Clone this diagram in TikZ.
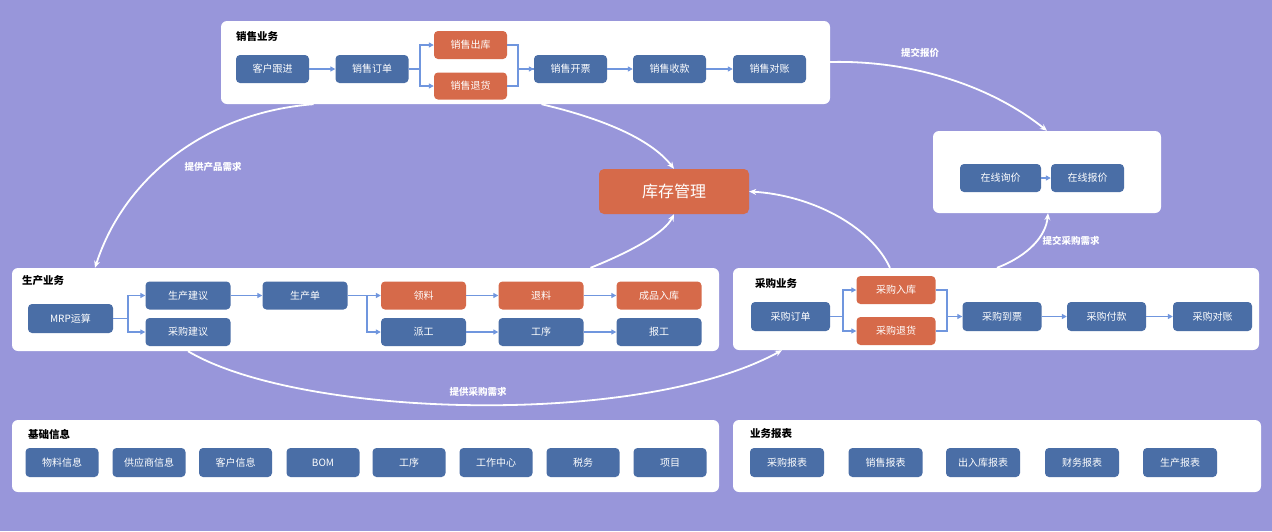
\documentclass[tikz,border=0pt]{standalone}
\usepackage{fontspec}
\setmainfont{Noto Sans CJK SC}
\usetikzlibrary{arrows.meta}
\definecolor{bgc}{RGB}{152,150,218}
\definecolor{bluebox}{RGB}{74,110,166}
\definecolor{orangebox}{RGB}{214,106,74}
\definecolor{conn}{RGB}{112,150,222}
\tikzset{
  panel/.style={fill=white, rounded corners=6pt, draw=none, inner sep=0pt},
  bbox/.style={fill=bluebox, rounded corners=4pt, text=white, font=\fontsize{10}{12}\selectfont, inner sep=0pt, minimum width=73pt, minimum height=28pt},
  obox/.style={bbox, fill=orangebox},
  wp/.style={minimum width=85pt},
  wu/.style={minimum width=79pt},
  ptitle/.style={anchor=west, font=\fontsize{10.5}{12}\selectfont\bfseries, text=black, inner sep=0pt},
  conn/.style={draw=conn, line width=1.6pt, -{Triangle[length=5pt,width=5pt]}},
  connl/.style={draw=conn, line width=1.6pt},
  flow/.style={draw=white, line width=1.8pt, -{Stealth[length=7pt,width=6pt]}},
  flabel/.style={text=white, font=\fontsize{9.5}{11}\selectfont\bfseries, inner sep=1pt}
}
\begin{document}
\begin{tikzpicture}[x=1pt,y=-1pt]
\fill[bgc] (0,0) rectangle (1272,531);
\useasboundingbox (0,0) rectangle (1272,531);

% panels
\node[panel, minimum width=609pt, minimum height=83pt] (psales) at (525.5,62.5) {};
\node[panel, minimum width=228pt, minimum height=82pt] (ponline) at (1047,172) {};
\node[panel, minimum width=707pt, minimum height=83pt] (pprod) at (365.5,309.5) {};
\node[panel, minimum width=526pt, minimum height=82pt] (ppur) at (996,309) {};
\node[panel, minimum width=707pt, minimum height=72pt] (pbase) at (365.5,456) {};
\node[panel, minimum width=528pt, minimum height=72pt] (prep) at (997,456) {};

% titles
\node[ptitle] (tsales) at (236,36) {销售业务};
\node[ptitle] (tprod) at (22,281) {生产业务};
\node[ptitle] (tpur) at (755,283) {采购业务};
\node[ptitle] (tbase) at (28,434) {基础信息};
\node[ptitle] (trep) at (750,434) {业务报表};

% inventory
\node[obox, minimum width=150pt, minimum height=45pt, rounded corners=5pt, font=\fontsize{16}{18}\selectfont] (inv) at (674,191.5) {库存管理};

% sales
\node[bbox] (s1) at (272.5,69) {客户跟进};
\node[bbox] (s2) at (372,69) {销售订单};
\node[obox] (s3) at (470.5,45) {销售出库};
\node[obox, minimum height=27pt] (s4) at (470.5,86) {销售退货};
\node[bbox] (s5) at (570.5,69) {销售开票};
\node[bbox] (s6) at (669.5,69) {销售收款};
\node[bbox] (s7) at (769.5,69) {销售对账};
\draw[conn] (s1) -- (s2);
\draw[conn] (s2.east) -- ++(11,0) |- (s3.west);
\draw[conn] (s2.east) -- ++(11,0) |- (s4.west);
\draw[connl] (s3.east) -- ++(11,0) |- (s5.west);
\draw[conn] (s4.east) -- ++(11,0) |- (s5.west);
\draw[conn] (s5) -- (s6);
\draw[conn] (s6) -- (s7);

% online
\node[bbox, minimum width=81pt] (o1) at (1000.5,178) {在线询价};
\node[bbox] (o2) at (1087.5,178) {在线报价};
\draw[conn] (o1) -- (o2);

% production
\node[bbox, wp, minimum height=29pt] (m0) at (70.5,318.5) {MRP运算};
\node[bbox, wp] (m1) at (188,295.5) {生产建议};
\node[bbox, wp] (m2) at (188,332) {采购建议};
\node[bbox, wp] (m3) at (305,295.5) {生产单};
\node[obox, wp] (m4) at (423.5,295.5) {领料};
\node[obox, wp] (m5) at (541,295.5) {退料};
\node[obox, wp] (m6) at (659,295.5) {成品入库};
\node[bbox, wp] (m7) at (423.5,332) {派工};
\node[bbox, wp] (m8) at (541,332) {工序};
\node[bbox, wp] (m9) at (659,332) {报工};
\draw[conn] (m0.east) -- ++(15,0) |- (m1.west);
\draw[conn] (m0.east) -- ++(15,0) |- (m2.west);
\draw[conn] (m1) -- (m3);
\draw[conn] (m3.east) -- ++(19,0) |- (m4.west);
\draw[conn] (m3.east) -- ++(19,0) |- (m7.west);
\draw[conn] (m4) -- (m5);
\draw[conn] (m5) -- (m6);
\draw[conn] (m7) -- (m8);
\draw[conn] (m8) -- (m9);

% purchase
\node[bbox, wu, minimum height=29pt] (u1) at (790.5,316.5) {采购订单};
\node[obox, wu] (u2) at (896,290) {采购入库};
\node[obox, wu] (u3) at (896,331) {采购退货};
\node[bbox, wu, minimum height=29pt] (u4) at (1002,316.5) {采购到票};
\node[bbox, wu, minimum height=29pt] (u5) at (1106.5,316.5) {采购付款};
\node[bbox, wu, minimum height=29pt] (u6) at (1212.5,316.5) {采购对账};
\draw[conn] (u1.east) -- ++(13,0) |- (u2.west);
\draw[conn] (u1.east) -- ++(13,0) |- (u3.west);
\draw[connl] (u2.east) -- ++(11,0) |- (u4.west);
\draw[conn] (u3.east) -- ++(11,0) |- (u4.west);
\draw[conn] (u4) -- (u5);
\draw[conn] (u5) -- (u6);

% basic info
\node[bbox, minimum height=29pt] (b1) at (62,462.5) {物料信息};
\node[bbox, minimum height=29pt] (b2) at (149,462.5) {供应商信息};
\node[bbox, minimum height=29pt] (b3) at (235.5,462.5) {客户信息};
\node[bbox, minimum height=29pt] (b4) at (323,462.5) {BOM};
\node[bbox, minimum height=29pt] (b5) at (409,462.5) {工序};
\node[bbox, minimum height=29pt] (b6) at (496,462.5) {工作中心};
\node[bbox, minimum height=29pt] (b7) at (583,462.5) {税务};
\node[bbox, minimum height=29pt] (b8) at (670,462.5) {项目};
% reports
\node[bbox, minimum width=74pt, minimum height=29pt] (r1) at (787,462.5) {采购报表};
\node[bbox, minimum width=74pt, minimum height=29pt] (r2) at (885.5,462.5) {销售报表};
\node[bbox, minimum width=74pt, minimum height=29pt] (r3) at (983,462.5) {出入库报表};
\node[bbox, minimum width=74pt, minimum height=29pt] (r4) at (1082,462.5) {财务报表};
\node[bbox, minimum width=74pt, minimum height=29pt] (r5) at (1180,462.5) {生产报表};

% flows between panels
\draw[flow] ([xshift=-212pt]psales.south) .. controls (210,112) and (125,175) .. ([xshift=-270.5pt]pprod.north);
\node[flabel] (l1) at (213,167) {提供产品需求};
\draw[flow] ([xshift=16pt]psales.south) .. controls (600,118) and (650,138) .. (inv.north);
\draw[flow] ([xshift=225pt]pprod.north) .. controls (635,250) and (665,232) .. (inv.south);
\draw[flow] ([xshift=-106pt]ppur.north) .. controls (870,225) and (810,195) .. (inv.east);
\draw[flow] ([yshift=0.5pt]psales.east) .. controls (910,60) and (990,85) .. ([xshift=0pt]ponline.north);
\node[flabel] (l2) at (920,53) {提交报价};
\draw[flow] ([xshift=1pt]ppur.north) .. controls (1030,255) and (1046,235) .. ([xshift=1pt]ponline.south);
\node[flabel] (l3) at (1071,241) {提交采购需求};
\draw[flow] ([xshift=-177.5pt]pprod.south) .. controls (300,418) and (640,428) .. ([xshift=-214pt]ppur.south);
\node[flabel] (l4) at (478,392) {提供采购需求};
\end{tikzpicture}
\end{document}
